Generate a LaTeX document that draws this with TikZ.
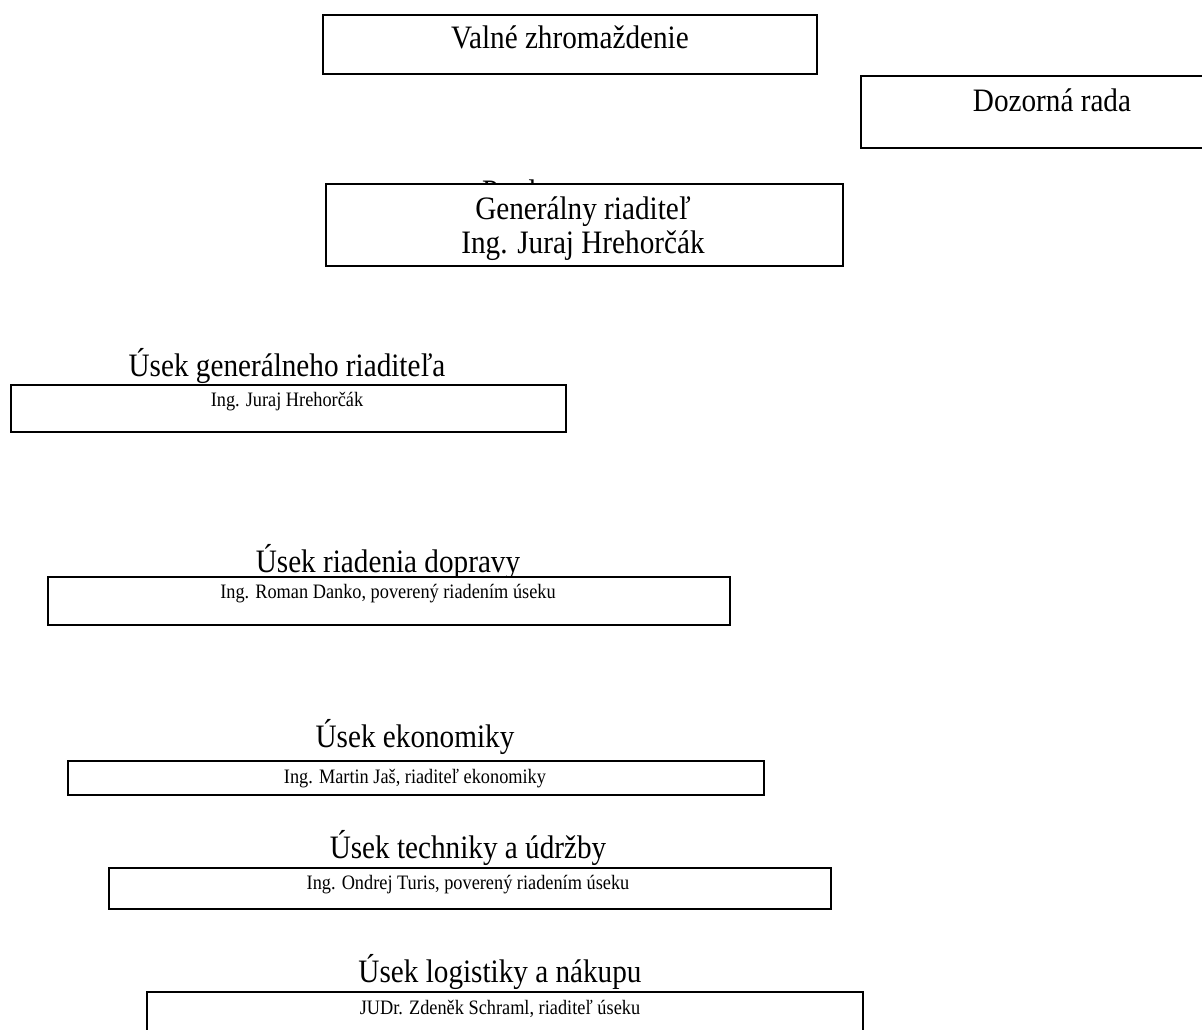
\documentclass[tikz,border=0pt]{standalone}
\usepackage{fontspec}
\setmainfont{Liberation Serif}
\newcommand{\vst}[1]{\scalebox{1}[1.12]{#1}}
\tikzset{
  box/.style={draw=black, line width=2pt, fill=white, rectangle, inner sep=0pt},
  big/.style={font=\fontsize{29.2}{33}\selectfont, inner sep=0pt, anchor=base},
  small/.style={font=\fontsize{18.3}{21}\selectfont, inner sep=0pt, anchor=base},
}
\newcommand{\ubox}[5]{% name, left, top, right, bottom
  \node[box, anchor=north west, minimum width=#4-#2, minimum height=#5-#3] (#1) at (#2,#3) {};}
\begin{document}
\begin{tikzpicture}[x=1pt,y=-1pt]
\useasboundingbox[fill=white] (0,0) rectangle (1202,1030);
\clip (0,0) rectangle (1202,1030);
% Valne zhromazdenie
\ubox{vz}{322}{14}{816}{73}
\node[big] (vzt) at (570,49) {\vst{Valné zhromaždenie}};
% Dozorna rada
\ubox{dr}{860}{75}{1210}{147}
\node[big] (drt) at (1052,112) {\vst{Dozorná rada}};
% text mostly hidden behind the GR box
\node[big, anchor=base west] (pred) at (482,202.5) {\vst{Predstavenstvo}};
\ubox{gr}{325}{183}{842}{265}
\node[big] (gr1) at (583,219) {\vst{Generálny riaditeľ}};
\node[big] (gr2) at (583,253) {\vst{Ing. Juraj Hrehorčák}};
% Usek GR
\node[big] (ugrt) at (287,376) {\vst{Úsek generálneho riaditeľa}};
\ubox{ugr}{10}{384}{565}{431}
\node[small] (ugrn) at (287,406) {\vst{Ing. Juraj Hrehorčák}};
% Usek riadenia dopravy
\node[big] (urdt) at (388,572) {\vst{Úsek riadenia dopravy}};
\ubox{urd}{47}{576}{729}{624}
\node[small] (urdn) at (388,598) {\vst{Ing. Roman Danko, poverený riadením úseku}};
% Usek ekonomiky
\node[big] (uekt) at (415,747) {\vst{Úsek ekonomiky}};
\ubox{uek}{67}{760}{763}{794}
\node[small] (uekn) at (415,783) {\vst{Ing. Martin Jaš, riaditeľ ekonomiky}};
% Usek techniky
\node[big] (utut) at (468,858) {\vst{Úsek techniky a údržby}};
\ubox{utu}{108}{867}{830}{908}
\node[small] (utun) at (468,889) {\vst{Ing. Ondrej Turis, poverený riadením úseku}};
% Usek logistiky
\node[big] (ulnt) at (500,982) {\vst{Úsek logistiky a nákupu}};
\ubox{uln}{146}{991}{862}{1045}
\node[small] (ulnn) at (500,1014) {\vst{JUDr. Zdeněk Schraml, riaditeľ úseku}};
\end{tikzpicture}
\end{document}
